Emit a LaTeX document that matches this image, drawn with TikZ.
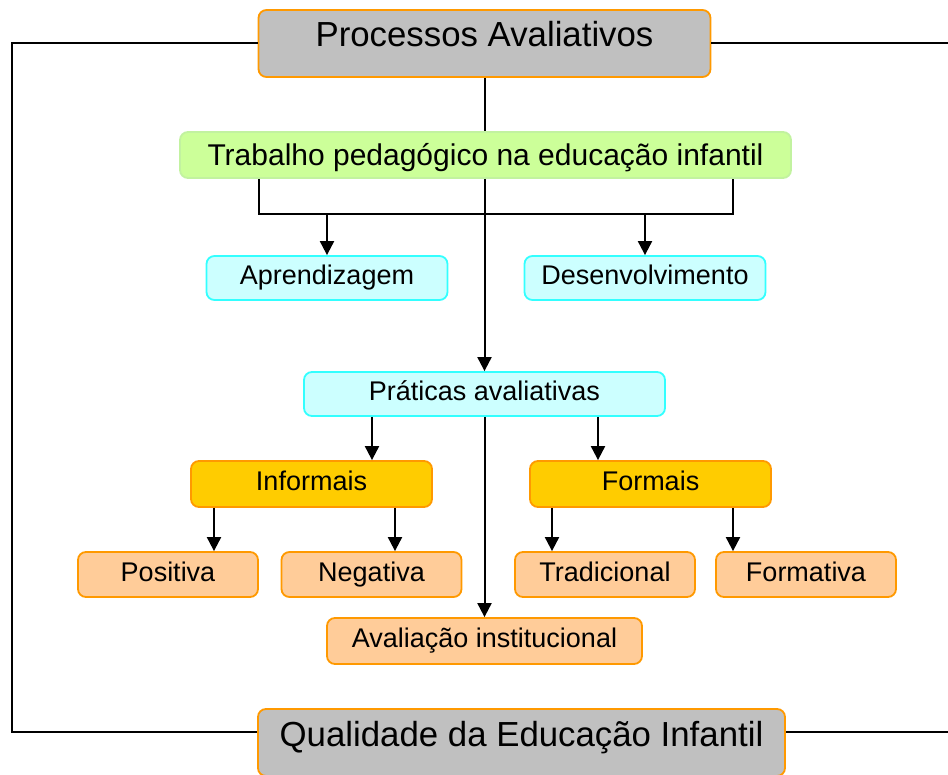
\documentclass[tikz,border=0pt]{standalone}
\usepackage{fontspec}
\setmainfont{Liberation Sans}
\usetikzlibrary{arrows.meta}

\definecolor{boxgray}{HTML}{C0C0C0}
\definecolor{lineorange}{HTML}{FF9900}
\definecolor{fillgreen}{HTML}{CCFF99}
\definecolor{linegreen}{HTML}{C2F2A0}
\definecolor{fillcyan}{HTML}{CCFFFF}
\definecolor{linecyan}{HTML}{33FFFF}
\definecolor{fillgold}{HTML}{FFCC00}
\definecolor{fillpeach}{HTML}{FFCC99}

\tikzset{
  box/.style={draw, line width=1.8pt, rounded corners=8pt, inner sep=0pt,
    align=center, text height=20pt, text depth=7pt,
    font=\fontsize{27}{32}\selectfont},
  titlebox/.style={box, fill=boxgray, draw=lineorange, minimum height=67pt,
    text height=25pt, text depth=18pt, font=\fontsize{34.8}{41}\selectfont},
  cyanbox/.style={box, fill=fillcyan, draw=linecyan, minimum width=241pt, minimum height=44pt},
  goldbox/.style={box, fill=fillgold, draw=lineorange, minimum width=241pt, minimum height=46pt},
  peachbox/.style={box, fill=fillpeach, draw=lineorange, minimum width=180pt, minimum height=45pt},
  link/.style={line width=2pt},
  arr/.style={link, -{Triangle[width=14pt,length=14pt]}}
}

\begin{document}
\begin{tikzpicture}[x=1pt, y=-1pt]
\useasboundingbox (0,0) rectangle (948,775);

% Title boxes
\node[titlebox, minimum width=452pt] (proc) at (484.5,43.5) {Processos Avaliativos};
\node[titlebox, minimum width=527pt] (qual) at (521.5,742.5) {Qualidade da Educação Infantil};

% Outer frame
\coordinate (frameL) at (12,0);
\coordinate (frameR) at (948,0);
\coordinate (qualL) at ([yshift=11pt]qual.west);
\coordinate (qualR) at ([yshift=11pt]qual.east);
\draw[link] (proc.west) -- (proc.west -| frameL) -- (qualL -| frameL) -- (qualL);
\draw[link] (proc.east) -- (proc.east -| frameR);
\draw[link] (qualR) -- (qualR -| frameR);

% Second level
\node[box, fill=fillgreen, draw=linegreen, minimum width=611pt, minimum height=46pt,
  text height=22pt, text depth=0pt, font=\fontsize{30}{36}\selectfont]
  (trab) at (485.5,155) {Trabalho pedagógico na educação infantil};
\node[cyanbox] (aprend) at (327,278) {Aprendizagem};
\node[cyanbox] (desenv) at (645,278) {Desenvolvimento};
\node[cyanbox, minimum width=361pt] (prat) at (484.5,394) {Práticas avaliativas};

% Kinds of practice
\node[goldbox] (info) at (311.5,484) {Informais};
\node[goldbox] (form) at (650.5,484) {Formais};
\node[peachbox] (pos) at (168,574.5) {Positiva};
\node[peachbox] (neg) at (371.5,574.5) {Negativa};
\node[peachbox] (trad) at (605,574.5) {Tradicional};
\node[peachbox] (formt) at (806,574.5) {Formativa};
\node[peachbox, minimum width=315pt, minimum height=46pt] (aval) at (484.5,641) {Avaliação institucional};

% Main spine
\draw[link] (proc.south) -- (proc.south |- trab.north);
\draw[arr] (prat.north |- trab.south) -- (prat.north);
\draw[arr] (prat.south) -- (aval.north);

% Bracket under the green box
\coordinate (bracketL) at (259,214);
\coordinate (bracketR) at (733,214);
\draw[link] (bracketL |- trab.south) -- (bracketL) -- (bracketR) -- (bracketR |- trab.south);
\draw[arr] (aprend.north |- bracketL) -- (aprend.north);
\draw[arr] (desenv.north |- bracketL) -- (desenv.north);

% Practices to informal / formal
\draw[arr] ([xshift=-112.5pt]prat.south) -- ([xshift=-112.5pt]prat.south |- info.north);
\draw[arr] ([xshift=113.5pt]prat.south) -- ([xshift=113.5pt]prat.south |- form.north);

% Informal / formal to their kinds
\draw[arr] ([xshift=-97.5pt]info.south) -- ([xshift=-97.5pt]info.south |- pos.north);
\draw[arr] ([xshift=83.5pt]info.south) -- ([xshift=83.5pt]info.south |- neg.north);
\draw[arr] ([xshift=-98.5pt]form.south) -- ([xshift=-98.5pt]form.south |- trad.north);
\draw[arr] ([xshift=82.5pt]form.south) -- ([xshift=82.5pt]form.south |- formt.north);
\end{tikzpicture}
\end{document}
